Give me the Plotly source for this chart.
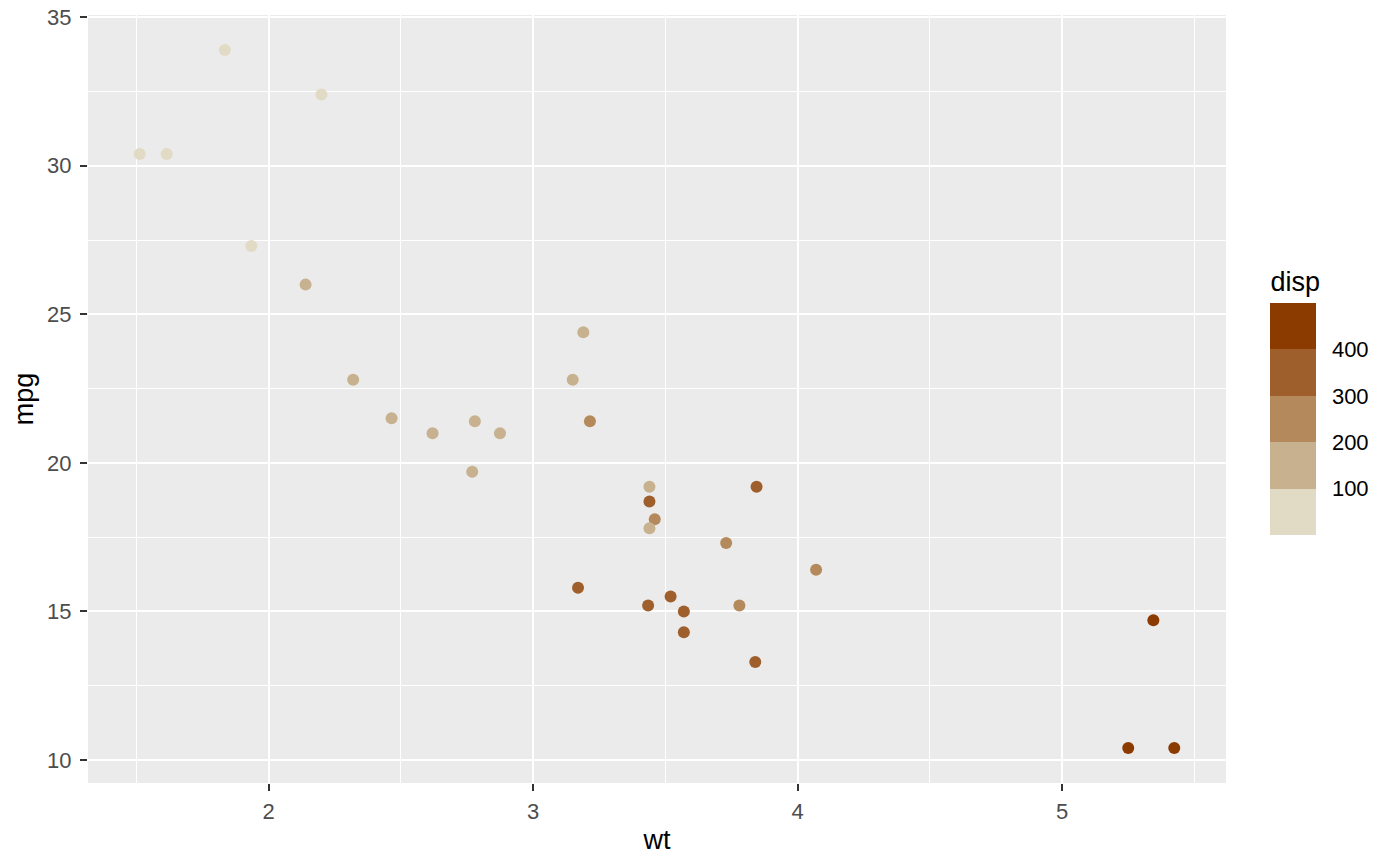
import numpy as np
import plotly.graph_objects as go

wt = [2.620, 2.875, 2.320, 3.215, 3.440, 3.460, 3.570, 3.190, 3.150, 3.440, 3.440, 4.070, 3.730, 3.780,
      5.250, 5.424, 5.345, 2.200, 1.615, 1.835, 2.465, 3.520, 3.435, 3.840, 3.845, 1.935, 2.140, 1.513,
      3.170, 2.770, 3.570, 2.780]
mpg = [21.0, 21.0, 22.8, 21.4, 18.7, 18.1, 14.3, 24.4, 22.8, 19.2, 17.8, 16.4, 17.3, 15.2,
       10.4, 10.4, 14.7, 32.4, 30.4, 33.9, 21.5, 15.5, 15.2, 13.3, 19.2, 27.3, 26.0, 30.4,
       15.8, 19.7, 15.0, 21.4]
disp = [160, 160, 108, 258, 360, 225, 360, 146.7, 140.8, 167.6, 167.6, 275.8, 275.8, 275.8,
        472, 460, 440, 78.7, 75.7, 71.1, 120.1, 318, 304, 350, 400, 79, 120.3, 95.1,
        351, 145, 301, 121]
breaks = [100, 200, 300, 400]
bin_colors = ["#E1DBC5", "#C8B18F", "#B48A5C", "#9E5F2C", "#8B3A00"]

bins = np.digitize(disp, breaks, right=True) + 0.5
n = len(bin_colors)
cs = []
for i, c in enumerate(bin_colors):
    cs.append([i / n, c])
    cs.append([(i + 1) / n, c])

fig = go.Figure()
fig.add_trace(go.Scatter(
    x=wt, y=mpg, mode="markers",
    marker=dict(size=12, color=bins, colorscale=cs, cmin=0, cmax=n,
                line=dict(width=0),
                colorbar=dict(
                    title=dict(text="disp", side="top", font=dict(size=27, color="black")),
                    tickvals=[1, 2, 3, 4], ticktext=[str(b) for b in breaks],
                    ticks="outside", ticklen=12, tickcolor="rgba(0,0,0,0)",
                    tickfont=dict(size=22, color="black"),
                    thickness=46, thicknessmode="pixels",
                    len=267, lenmode="pixels",
                    x=1.039, xanchor="left", xpad=0,
                    y=0.4967, yanchor="middle", ypad=0,
                    outlinewidth=0, ticklabelposition="outside",
                )),
    showlegend=False,
))

fig.update_layout(
    width=1400, height=866,
    margin=dict(l=88, r=173.5, t=15, b=83, autoexpand=False),
    paper_bgcolor="white", plot_bgcolor="#EBEBEB",
    font=dict(family="Liberation Sans, Arial", size=22, color="#4D4D4D"),
)
fig.update_xaxes(
    range=[1.3175, 5.6196], tickvals=[2, 3, 4, 5],
    showgrid=True, gridcolor="white", gridwidth=2.2,
    minor=dict(tickvals=[1.5, 2.5, 3.5, 4.5, 5.5], showgrid=True, gridcolor="white", gridwidth=1.1),
    ticks="outside", ticklen=7, tickcolor="#333333", tickwidth=2,
    zeroline=False, showline=False, ticklabelstandoff=2,
    tickfont=dict(size=22, color="#4D4D4D"),
    title=dict(text="wt", font=dict(size=27, color="black"), standoff=6),
)
fig.update_yaxes(
    range=[9.225, 35.075], tickvals=[10, 15, 20, 25, 30, 35],
    showgrid=True, gridcolor="white", gridwidth=2.2,
    minor=dict(tickvals=[12.5, 17.5, 22.5, 27.5, 32.5], showgrid=True, gridcolor="white", gridwidth=1.1),
    ticks="outside", ticklen=7, tickcolor="#333333", tickwidth=2,
    zeroline=False, showline=False, ticklabelstandoff=4, ticklabeloverflow="allow",
    tickfont=dict(size=22, color="#4D4D4D"),
    title=dict(text="mpg", font=dict(size=27, color="black"), standoff=5),
)

fig.write_html("out.html", config={"displayModeBar": False},
               post_script="document.body.style.margin='0';")
